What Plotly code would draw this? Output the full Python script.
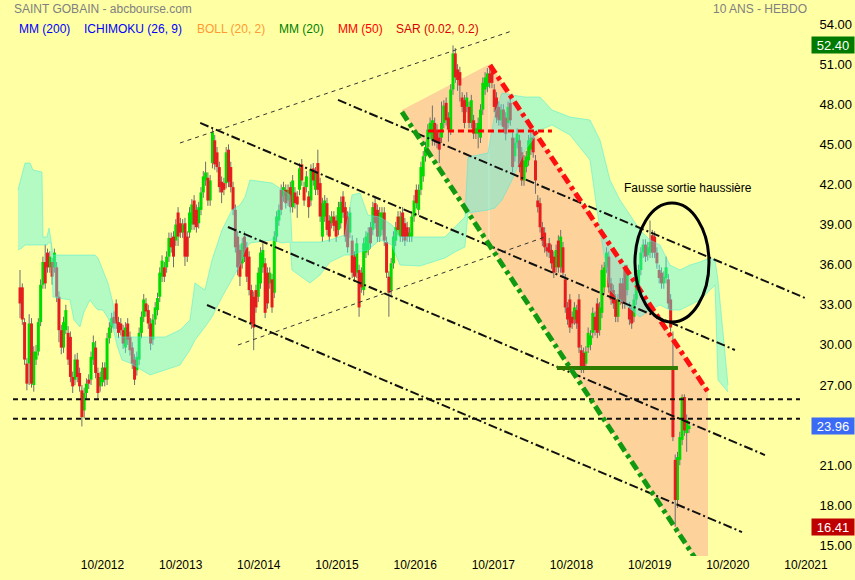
import numpy as np
import plotly.graph_objects as go

# ---------------- price data (biweekly-ish candles) ----------------
T_FIRST, T_LAST = 2011.695, 2020.253   # decimal years of first / last candle

opens = [
 34.3, 34.3, 31.7, 28.6, 28.6, 31.6, 27.0, 28.9, 29.5, 31.7,
 34.5, 36.2, 36.9, 35.8, 36.2, 35.8, 35.8, 33.6, 31.1, 29.8,
 31.1, 30.9, 30.6, 27.6, 27.4, 28.9, 27.9, 26.6, 25.1, 26.4,
 27.4, 27.4, 28.9, 29.8, 27.9, 26.9, 27.2, 28.3, 27.4, 30.5,
 31.3, 32.1, 33.1, 31.7, 31.6, 31.1, 29.8, 31.6, 30.6, 29.8,
 28.9, 28.1, 28.9, 30.9, 32.1, 33.1, 32.6,
 31.6, 30.4, 31.9, 32.6, 33.6, 35.1, 35.8, 35.8, 36.6, 38.0,
 38.1, 37.8, 39.9, 39.1, 38.4, 39.1, 38.1, 38.4, 39.0, 40.8,
 40.1, 39.1, 40.1, 41.4, 42.3, 42.5, 40.8, 43.6, 45.3, 44.4,
 43.3, 42.2, 42.1, 42.1, 44.6, 43.3, 41.8, 40.1, 38.1, 37.1,
 36.1, 38.1, 37.3, 36.6, 34.1, 33.6, 34.1, 33.6, 34.6, 35.8,
 36.1, 35.4, 34.6, 34.9, 33.9, 38.1, 39.3, 41.6, 41.1, 41.6,
 40.8,
 41.8, 40.3, 41.4, 41.1, 41.6, 43.5, 41.8, 41.8, 41.1, 40.8,
 43.2, 41.6, 43.6, 42.1, 38.1, 39.6, 40.6, 39.3, 39.1, 39.6,
 39.3, 38.6, 39.1, 41.1, 40.3, 39.6, 38.4, 37.8, 36.6, 35.4,
 35.6, 35.4, 34.1, 36.9, 37.1, 38.8, 38.6, 40.6, 40.1, 38.1,
 38.6, 39.9, 37.7, 35.1, 34.1, 36.1, 37.8, 39.6, 38.1, 39.9,
 39.1, 38.8, 38.1, 38.1, 39.6, 41.6, 40.1, 41.6, 42.6, 44.1,
 44.8,
 45.8, 45.3, 46.6, 46.1, 45.5, 45.5, 46.6, 48.1, 47.0, 46.1,
 49.1, 51.8, 50.6, 50.4, 48.5, 48.3, 47.8, 47.8, 46.6, 46.8,
 45.8, 45.8, 45.5, 47.6, 49.1, 49.3, 50.3, 50.8, 49.1, 48.5,
 47.8, 46.8, 47.6, 47.0, 46.6, 48.1, 45.5, 44.1, 45.1, 45.3,
 44.4, 42.3, 43.3, 43.8, 44.6, 45.5, 43.8, 40.8, 40.6, 38.8,
 38.4, 37.3, 37.6, 37.1, 36.6, 35.8, 37.8, 35.8, 37.3, 34.9,
 32.8,
 33.4, 32.1, 31.9, 32.6, 33.4, 29.6, 29.4, 28.6, 29.8, 30.0,
 30.9, 32.1, 33.1, 31.1, 32.4, 34.3, 35.8, 36.6, 34.6, 34.1,
 33.4, 32.1, 34.6, 34.6, 35.6, 34.1, 32.8, 32.6, 32.1, 33.4,
 34.3, 35.6, 36.9, 37.5, 36.7, 36.9, 38.2, 38.1, 36.9, 35.6,
 35.4, 34.6, 35.0, 34.9, 33.4, 28.3, 21.4, 18.4, 21.4, 22.9,
 26.1, 23.4, 23.7,
]

highs = [
 35.6, 34.6, 32.0, 29.0, 32.3, 32.0, 29.9, 30.0, 32.0, 34.9,
 36.6, 37.5, 37.2, 37.0, 36.5, 37.2, 36.2, 34.0, 31.5, 32.1,
 33.0, 31.4, 31.0, 28.0, 29.3, 29.4, 28.3, 27.0, 26.8, 27.5,
 27.8, 29.5, 30.7, 30.3, 28.3, 28.0, 28.7, 28.7, 30.9, 31.7,
 32.4, 32.5, 33.4, 32.1, 32.0, 31.5, 31.7, 32.0, 31.0, 30.2,
 29.3, 29.5, 31.3, 32.5, 33.8, 33.5, 33.0,
 32.0, 32.3, 33.2, 33.9, 35.8, 36.7, 36.2, 37.0, 38.4, 38.4,
 38.5, 39.4, 40.3, 39.5, 39.4, 39.5, 38.5, 40.3, 40.9, 41.2,
 40.5, 40.7, 41.8, 43.0, 43.7, 42.9, 42.7, 46.2, 45.7, 44.8,
 43.7, 42.6, 42.5, 44.8, 45.0, 43.7, 42.2, 40.5, 38.5, 37.5,
 38.0, 38.5, 37.7, 37.0, 34.5, 34.0, 34.5, 35.8, 37.3, 37.6,
 36.5, 35.8, 35.8, 35.3, 38.5, 40.0, 40.5, 42.0, 42.2, 42.0,
 42.0,
 42.2, 42.7, 41.8, 41.5, 43.6, 43.9, 42.2, 43.0, 41.5, 43.5,
 43.6, 43.3, 44.6, 42.5, 41.0, 41.2, 41.0, 39.7, 40.0, 40.0,
 39.7, 40.7, 41.1, 41.5, 40.7, 40.0, 40.3, 38.2, 37.0, 38.0,
 36.0, 35.8, 38.0, 38.5, 38.8, 39.2, 40.7, 41.0, 40.5, 40.3,
 40.3, 40.3, 38.1, 35.5, 36.5, 38.5, 39.2, 40.0, 40.0, 40.3,
 39.5, 39.2, 38.8, 40.0, 41.2, 42.0, 42.0, 43.7, 44.5, 45.2,
 46.5,
 47.0, 47.9, 47.0, 46.5, 45.9, 48.2, 48.3, 48.5, 47.4, 49.5,
 52.4, 52.2, 51.0, 50.8, 48.9, 48.7, 48.9, 48.2, 48.7, 47.2,
 46.6, 47.0, 48.0, 50.0, 50.4, 50.7, 50.7, 51.0, 49.5, 48.9,
 48.2, 48.0, 48.0, 47.4, 48.2, 48.5, 45.9, 45.5, 46.2, 45.7,
 44.8, 44.2, 44.5, 45.7, 45.9, 45.9, 44.2, 41.2, 41.0, 39.2,
 38.8, 37.6, 38.0, 37.5, 37.0, 37.5, 38.2, 38.6, 37.7, 35.3,
 33.2,
 33.8, 32.5, 33.2, 33.0, 33.8, 30.0, 29.8, 29.9, 31.3, 31.1,
 32.8, 32.5, 33.5, 33.2, 36.0, 36.2, 37.3, 37.0, 35.0, 34.5,
 33.8, 33.8, 35.0, 35.0, 36.0, 36.0, 33.2, 33.0, 33.8, 35.3,
 36.0, 37.3, 37.9, 37.9, 37.7, 39.3, 38.6, 38.5, 37.3, 36.0,
 35.8, 35.5, 36.6, 35.3, 33.8, 31.0, 21.8, 22.0, 23.5, 26.3,
 26.3, 24.8, 24.3,
]

lows = [
 32.0, 31.5, 28.5, 26.6, 27.0, 26.8, 26.5, 28.5, 29.2, 31.4,
 34.2, 34.2, 35.4, 35.4, 34.5, 35.4, 33.2, 30.2, 29.3, 29.4,
 30.8, 28.5, 27.2, 26.4, 27.0, 27.2, 26.5, 23.9, 24.5, 26.0,
 26.7, 27.0, 28.5, 27.5, 25.9, 26.5, 26.9, 26.9, 27.0, 30.1,
 30.9, 31.2, 31.2, 30.5, 30.7, 29.7, 29.4, 30.0, 29.2, 28.2,
 27.0, 27.7, 28.5, 30.5, 31.7, 32.1, 31.2,
 29.6, 30.0, 31.5, 32.2, 33.2, 34.7, 34.7, 35.4, 36.2, 36.9,
 35.8, 37.4, 37.4, 38.0, 38.0, 35.9, 36.2, 38.0, 38.6, 38.6,
 38.4, 38.7, 39.7, 41.0, 41.9, 40.4, 40.4, 43.2, 43.1, 42.9,
 41.4, 40.6, 41.2, 41.7, 41.8, 41.4, 39.7, 36.9, 35.2, 34.4,
 35.7, 36.2, 34.7, 33.7, 31.2, 29.6, 32.4, 33.2, 34.2, 35.4,
 32.0, 32.7, 34.2, 32.4, 33.5, 37.7, 38.9, 39.7, 40.7, 40.2,
 40.4,
 39.9, 39.9, 40.2, 39.5, 41.2, 41.9, 40.4, 41.4, 39.5, 40.4,
 41.9, 41.2, 41.2, 39.2, 37.7, 39.2, 38.2, 37.7, 38.7, 38.5,
 37.7, 38.2, 38.7, 39.5, 37.7, 36.9, 38.0, 35.0, 34.7, 35.0,
 32.1, 33.9, 33.7, 36.5, 36.7, 37.2, 38.2, 38.7, 37.7, 37.7,
 38.2, 37.4, 35.0, 32.1, 33.7, 35.7, 37.4, 38.2, 37.7, 37.7,
 37.4, 37.7, 37.7, 37.7, 39.2, 40.2, 39.7, 41.2, 42.2, 43.7,
 44.4,
 45.4, 44.9, 44.9, 44.7, 43.6, 45.1, 46.2, 46.4, 45.2, 45.7,
 48.7, 49.6, 49.0, 48.2, 47.4, 46.2, 47.4, 46.2, 46.2, 45.4,
 45.4, 44.7, 45.1, 47.2, 48.7, 48.9, 49.2, 49.2, 47.4, 46.6,
 46.4, 46.4, 45.9, 45.3, 46.2, 46.4, 42.9, 43.7, 44.7, 42.9,
 41.9, 41.9, 42.9, 43.4, 44.2, 44.0, 41.3, 39.9, 38.4, 37.4,
 36.9, 36.6, 36.5, 35.7, 35.0, 35.4, 35.4, 35.4, 35.0, 32.4,
 31.5,
 30.9, 31.2, 31.5, 31.2, 29.4, 27.9, 27.9, 28.2, 29.4, 29.6,
 30.5, 30.7, 30.5, 30.7, 32.0, 33.9, 35.4, 33.9, 33.0, 32.7,
 31.7, 31.7, 33.0, 32.7, 32.7, 33.7, 31.5, 31.2, 31.7, 33.0,
 33.9, 35.2, 36.5, 36.2, 36.3, 36.5, 36.5, 36.5, 35.7, 34.6,
 34.2, 34.2, 34.6, 32.7, 31.0, 22.8, 16.41, 17.8, 21.0, 22.5,
 23.2, 22.0, 23.4,
]

closes = [
 33.1, 31.9, 28.9, 27.1, 31.6, 27.1, 29.5, 29.5, 31.7, 34.5,
 36.2, 34.6, 35.8, 36.6, 35.1, 36.9, 33.6, 31.1, 29.8, 31.7,
 32.6, 28.9, 27.6, 26.9, 28.9, 27.6, 26.9, 24.6, 26.4, 27.1,
 27.1, 29.1, 30.2, 27.9, 26.4, 27.6, 28.3, 27.4, 30.5, 31.3,
 32.0, 31.6, 31.6, 30.9, 31.1, 30.1, 31.3, 30.4, 29.6, 28.6,
 27.4, 29.1, 30.9, 32.1, 33.4, 32.5, 31.6,
 30.1, 31.9, 32.8, 33.5, 35.4, 36.3, 35.1, 36.6, 38.0, 37.3,
 36.6, 39.0, 38.1, 38.4, 39.0, 36.6, 36.6, 39.9, 40.5, 39.0,
 38.8, 40.3, 41.4, 42.6, 42.9, 40.8, 42.3, 45.9, 43.5, 43.3,
 41.8, 41.4, 41.6, 44.4, 42.2, 41.8, 40.1, 37.3, 35.8, 35.1,
 37.6, 36.6, 35.1, 34.1, 31.6, 31.3, 32.8, 35.4, 36.9, 37.1,
 32.4, 33.1, 35.4, 32.8, 38.1, 39.6, 40.1, 40.1, 41.8, 40.6,
 41.6,
 40.3, 42.3, 40.6, 40.5, 43.2, 42.3, 40.8, 42.6, 40.3, 43.1,
 42.3, 42.9, 41.6, 39.6, 40.6, 40.8, 38.6, 38.1, 39.6, 38.9,
 38.1, 40.3, 40.7, 39.9, 38.1, 37.3, 39.9, 35.4, 35.1, 37.6,
 32.8, 34.3, 37.6, 38.1, 38.4, 37.6, 40.3, 39.1, 38.1, 39.9,
 39.9, 37.8, 35.4, 33.9, 36.1, 38.1, 38.8, 38.6, 39.6, 38.1,
 37.8, 38.1, 38.4, 39.6, 40.8, 40.6, 41.6, 43.3, 44.1, 44.8,
 46.1,
 46.6, 46.8, 45.3, 45.1, 44.6, 46.6, 47.9, 46.8, 46.1, 49.1,
 51.8, 50.0, 49.8, 49.4, 47.8, 46.6, 48.5, 46.6, 48.3, 45.8,
 46.2, 46.6, 47.6, 49.6, 50.0, 50.3, 49.6, 49.6, 47.8, 47.0,
 46.8, 47.6, 46.3, 45.8, 47.8, 46.8, 43.3, 45.1, 45.8, 43.3,
 42.3, 43.8, 44.1, 45.3, 45.5, 44.4, 42.3, 40.3, 38.8, 37.8,
 37.3, 37.0, 36.9, 36.1, 35.4, 37.1, 35.8, 38.1, 35.4, 32.8,
 31.9,
 31.3, 31.6, 32.8, 31.6, 29.8, 28.3, 28.3, 29.5, 30.9, 30.7,
 32.4, 31.1, 30.9, 32.8, 35.6, 35.8, 36.9, 34.3, 33.4, 33.1,
 32.1, 33.4, 33.4, 33.1, 33.1, 35.6, 31.9, 31.6, 33.4, 34.9,
 35.6, 36.9, 37.5, 36.6, 37.3, 37.7, 36.9, 36.9, 36.1, 35.0,
 34.6, 35.1, 35.8, 33.1, 31.3, 23.1, 18.4, 21.6, 23.1, 26.1,
 23.6, 24.4, 23.96,
]

# ---------------- Ichimoku cloud (upper / lower edge) ----------------
cloud_t = [2011.669, 2011.720, 2011.759, 2011.823, 2011.861, 2011.976, 2011.989, 2012.040, 2012.066, 2012.091,
           2012.117, 2012.334, 2012.385, 2012.462, 2012.513, 2012.590, 2012.654, 2012.692, 2012.756, 2012.820,
           2012.884, 2012.935, 2012.999, 2013.102, 2013.358, 2013.550, 2013.741, 2013.869, 2013.933, 2014.061,
           2014.151, 2014.279, 2014.407, 2014.509, 2014.573, 2014.637, 2014.918, 2015.046, 2015.149, 2015.174,
           2015.404, 2015.532, 2015.660, 2015.852, 2015.942, 2016.044, 2016.146, 2016.300, 2016.453, 2016.556,
           2016.812, 2017.132, 2017.259, 2017.387, 2017.426, 2017.682, 2017.771, 2017.861, 2017.989, 2018.155,
           2018.347, 2018.501, 2018.731, 2018.987, 2019.114, 2019.242, 2019.370, 2019.626, 2019.754, 2019.882,
           2020.010, 2020.138, 2020.266, 2020.394, 2020.522, 2020.586, 2020.624, 2020.752]
cloud_top = [41.58, 42.71, 43.60, 43.60, 43.08, 42.93, 38.07, 38.07, 38.74, 37.84,
             36.72, 36.72, 36.72, 36.72, 36.72, 36.72, 36.72, 36.50, 35.60, 34.63,
             33.13, 30.59, 30.59, 30.59, 30.59, 30.59, 31.11, 31.86, 34.63, 34.10,
             36.35, 38.59, 40.09, 40.46, 41.06, 42.33, 42.11, 41.58, 41.21, 37.69,
             37.69, 37.69, 37.84, 38.22, 41.21, 41.36, 39.71, 39.56, 38.97, 38.07,
             38.07, 38.07, 38.82, 39.56, 44.05, 44.35, 47.34, 48.84, 48.69, 48.54,
             48.54, 47.57, 47.04, 46.82, 45.32, 42.33, 40.84, 38.59, 37.84, 37.47,
             35.97, 35.60, 35.97, 36.20, 36.50, 36.35, 34.85, 27.00]
cloud_bot = [37.10, 37.25, 37.47, 37.47, 37.47, 37.47, 37.47, 37.47, 37.69, 37.54,
             33.58, 33.36, 31.86, 31.34, 32.46, 33.36, 32.83, 32.61, 32.61, 32.01,
             31.26, 29.99, 28.87, 28.64, 27.75, 28.12, 28.49, 29.62, 30.36, 31.34,
             32.09, 33.58, 34.85, 35.97, 37.10, 37.62, 37.84, 37.62, 37.69, 35.60,
             34.63, 35.23, 36.20, 36.72, 36.72, 36.95, 37.10, 37.84, 37.47, 35.97,
             35.90, 36.50, 36.95, 37.32, 39.86, 40.09, 40.24, 40.84, 42.33, 44.58,
             46.07, 46.45, 45.70, 43.83, 38.59, 34.10, 33.36, 32.09, 32.61, 32.98,
             32.61, 32.61, 32.98, 33.36, 34.10, 34.48, 27.37, 26.48]

# ---------------- drawn objects (dates as decimal years, prices) ----------------
zone_t = [2016.581, 2017.707, 2020.496, 2020.496, 2020.342]
zone_v = [47.57, 51.01, 26.55, 13.91, 13.91]
seam_t, seam_v = 2017.694, [50.93, 37.47]

thin_dash_lines = [((2013.741, 45.10), (2017.989, 53.48)),
                   ((2014.483, 29.99), (2018.411, 38.07))]
dashdot_lines = [((2015.763, 48.32), (2021.737, 33.51)),
                 ((2014.000, 46.60), (2020.841, 29.62)),
                 ((2014.355, 38.82), (2021.225, 21.76)),
                 ((2014.087, 32.98), (2020.931, 16.00))]
support_levels = [25.93, 24.48]
support_span = [2011.605, 2021.673]
red_level, red_span = 46.0, [2016.914, 2018.500]
green_level, green_span = 28.27, [2018.564, 2020.112]
green_trend = ((2016.581, 47.42), (2020.355, 13.84))
red_trend = ((2017.707, 50.93), (2020.496, 26.48))
ellipse_t = [2019.562, 2020.509]
ellipse_v = [31.71, 40.61]

x_tick_vals = [2012.75, 2013.75, 2014.75, 2015.75, 2016.75, 2017.75, 2018.75, 2019.75, 2020.75, 2021.75]
x_tick_text = ["10/2012", "10/2013", "10/2014", "10/2015", "10/2016",
               "10/2017", "10/2018", "10/2019", "10/2020", "10/2021"]
y_tick_vals = [15, 18, 21, 27, 30, 33, 36, 39, 42, 45, 48, 51, 54]
y_tick_text = ["15.00", "18.00", "21.00", "27.00", "30.00", "33.00",
               "36.00", "39.00", "42.00", "45.00", "48.00", "51.00", "54.00"]

last_high, last_close, last_low = 52.40, 23.96, 16.41

# ---------------- figure ----------------
BG = "#FFFFA4"
t = np.linspace(T_FIRST, T_LAST, len(closes))

fig = go.Figure()

# orange trend zone (below everything)
path = "M " + " L ".join(f"{a},{b}" for a, b in zip(zone_t, zone_v)) + " Z"
fig.add_shape(type="path", path=path, xref="x", yref="y", layer="below",
              fillcolor="#FDD39B", line=dict(width=0))
fig.add_shape(type="line", xref="x", yref="y", layer="below",
              x0=seam_t, x1=seam_t, y0=seam_v[0], y1=seam_v[1],
              line=dict(color="rgba(255,238,200,0.95)", width=1))

# wicks
wx, wy = [], []
for ti, h, l in zip(t, highs, lows):
    wx += [ti, ti, None]
    wy += [l, h, None]
fig.add_trace(go.Scatter(x=wx, y=wy, mode="lines", line=dict(color="#6e6e6e", width=1),
                         hoverinfo="skip"))

# bodies (thick vertical strokes from open to close)
for up, colr in [(True, "#00DC00"), (False, "#E41E1E")]:
    bx, by = [], []
    for ti, o, c in zip(t, opens, closes):
        if (c >= o) == up:
            bx += [ti, ti, None]
            by += [o, c, None]
    fig.add_trace(go.Scatter(x=bx, y=by, mode="lines", line=dict(color=colr, width=3),
                             hoverinfo="skip"))

# Ichimoku cloud (drawn over candles, semi-transparent)
fig.add_trace(go.Scatter(x=cloud_t, y=cloud_bot, mode="lines",
                         line=dict(color="rgba(70,235,215,0.5)", width=1), hoverinfo="skip"))
fig.add_trace(go.Scatter(x=cloud_t, y=cloud_top, mode="lines", fill="tonexty",
                         fillcolor="rgba(75,245,235,0.42)",
                         line=dict(color="rgba(70,235,215,0.5)", width=1), hoverinfo="skip"))

def seg(p0, p1, color, width, dash):
    fig.add_trace(go.Scatter(x=[p0[0], p1[0]], y=[p0[1], p1[1]], mode="lines",
                             line=dict(color=color, width=width, dash=dash), hoverinfo="skip"))

for p0, p1 in thin_dash_lines:
    seg(p0, p1, "#333333", 1, "4px,4px")
for p0, p1 in dashdot_lines:
    seg(p0, p1, "#111111", 2, "9px,3px,2px,3px")
for lv in support_levels:
    seg((support_span[0], lv), (support_span[1], lv), "#111111", 2, "5px,4px")
seg((red_span[0], red_level), (red_span[1], red_level), "#FF0000", 3, "6px,4px")
seg((green_span[0], green_level), (green_span[1], green_level), "#2E7D00", 4, "solid")
seg(green_trend[0], green_trend[1], "#119911", 5, "10px,4px,4px,4px")
seg(red_trend[0], red_trend[1], "#FF1010", 5, "10px,4px,4px,4px")

fig.add_shape(type="circle", xref="x", yref="y",
              x0=ellipse_t[0], x1=ellipse_t[1], y0=ellipse_v[0], y1=ellipse_v[1],
              line=dict(color="black", width=3))

ann = []
def txt(x, y, s, color, size=12, xref="paper", yref="paper", xanchor="left"):
    ann.append(dict(x=x, y=y, xref=xref, yref=yref, text=s, showarrow=False,
                    xanchor=xanchor, yanchor="middle",
                    font=dict(color=color, size=size, family="Liberation Sans, Arial")))

H = 556.0
txt(12 / 855, 1 - 9 / H, "SAINT GOBAIN - abcbourse.com", "#808080")
txt(711 / 855, 1 - 9 / H, "10 ANS - HEBDO", "#808080")
legend_items = [("MM (200)", "#0000FF", 17), ("ICHIMOKU (26, 9)", "#0000FF", 82),
                ("BOLL (20, 2)", "#FF9A33", 195), ("MM (20)", "#008000", 277),
                ("MM (50)", "#FF0000", 336), ("SAR (0.02, 0.2)", "#DD0000", 394)]
for s, c, px in legend_items:
    txt(px / 855, 1 - 29 / H, s, c)
txt(2020.246, 41.73, "Fausse sortie haussière", "#000000", xref="x", yref="y", xanchor="center")

for val, col in [(last_high, "#007A00"), (last_close, "#3B6BF5"), (last_low, "#BE0000")]:
    ann.append(dict(x=1, y=val, xref="paper", yref="y", text=f"{val:.2f}", showarrow=False,
                    xanchor="right", yanchor="middle", bgcolor=col, width=42, height=16,
                    borderpad=0, font=dict(color="white", size=13, family="Liberation Sans, Arial")))

fig.update_layout(
    width=855, height=580,
    margin=dict(l=0, r=0, t=0, b=24),
    paper_bgcolor=BG, plot_bgcolor=BG,
    showlegend=False, hovermode=False,
    font=dict(family="Liberation Sans, Arial", size=12, color="#000000"),
    annotations=ann,
    xaxis=dict(range=[2011.439, 2022.377], tickvals=x_tick_vals, ticktext=x_tick_text,
               showgrid=False, zeroline=False, showline=False, ticks="",
               tickfont=dict(size=12, color="#000000")),
    yaxis=dict(range=[14.21, 55.795], tickvals=y_tick_vals, ticktext=y_tick_text,
               side="right", ticklabelposition="inside", showgrid=False, zeroline=False,
               showline=False, ticks="", tickfont=dict(size=13, color="#000000")),
)

fig.write_html("out.html", include_plotlyjs=True, config={"displayModeBar": False},
               post_script="document.body.style.margin='0';document.body.style.overflow='hidden';")
